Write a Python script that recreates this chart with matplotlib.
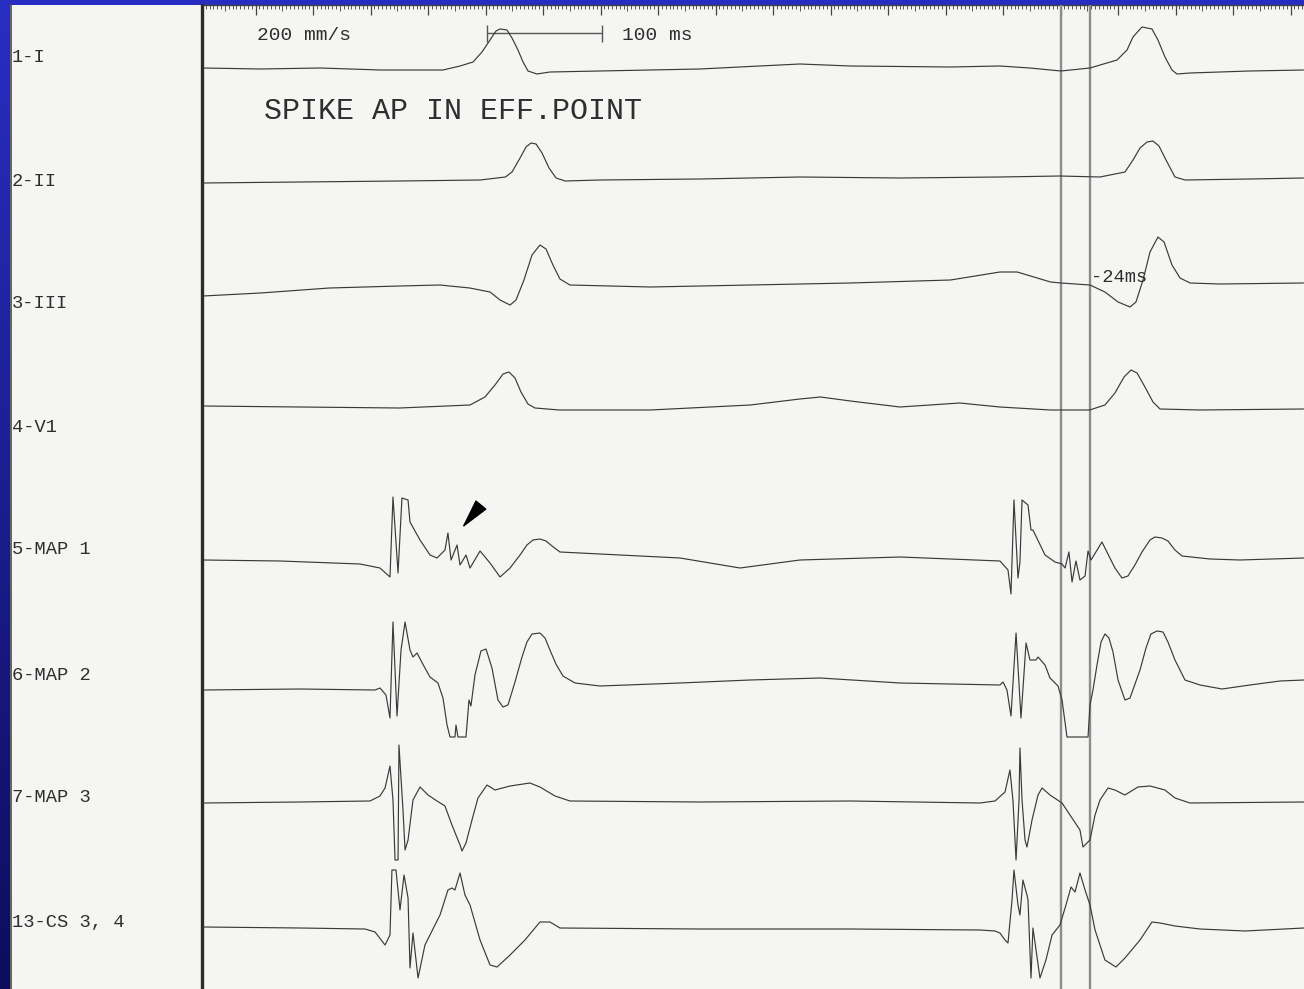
import numpy as np
import matplotlib.pyplot as plt
from matplotlib.patches import Rectangle

# channel names and recording traces: time in ms, deflection (positive up)
channel_names = ['1-I', '2-II', '3-III', '4-V1', '5-MAP 1', '6-MAP 2', '7-MAP 3', '13-CS 3, 4']

lead_i_t = [0, 50, 102, 154, 197, 208.7, 223.5, 234.8, 242.6, 249.6, 254.8, 258.3, 264.3, 268.7,
            273.9, 278.3, 282.6, 290.4, 301.7, 345, 432, 484, 519, 563, 650, 693, 719, 746, 771.3,
            794.8, 803.5, 808.7, 816.5, 825.2, 830.4, 836.5, 842.6, 846.9, 858.3, 910, 957]
lead_i_amp = [2, 1, 2, 0, 0, 0, 4, 8, 18, 30, 39, 41, 40, 32,
              20, 8, -1, -4, -2, -1, 1, 4, 6, 4, 3, 4, 2, -1, 2,
              10, 20, 33, 43, 41, 30, 13, 0, -4, -3, -1, 0]

lead_ii_t = [0, 84, 171, 241, 263, 268.7, 275.7, 280.9, 285.2, 289.6, 294.8, 300.9, 307, 315, 345,
             432, 519, 606, 693, 745, 780, 801.7, 808.7, 814.8, 820.9, 826.1, 831.3, 837.4, 845.2,
             854, 910, 957]
lead_ii_amp = [-3, -2, -1, 0, 3, 8, 22, 33, 37, 36, 27, 12, 2, -1, 0,
               1, 3, 2, 3, 4, 3, 8, 20, 32, 38, 39, 34, 20, 3,
               0, 1, 2]

lead_iii_t = [0, 50, 110, 171, 206, 232, 249.6, 258.3, 267, 272.2, 279.1, 286.1, 293, 298.3, 304.3,
              310.4, 319.1, 389, 476, 563, 650, 693, 708, 737, 746, 771.3, 784.3, 795.7, 806.1, 811.3,
              817.4, 823.5, 830.4, 835.7, 842.6, 849.6, 858.3, 884, 957]
lead_iii_amp = [-9, -6, -1, 1, 2, -1, -5, -13, -18, -13, 7, 32, 42, 38, 22,
                8, 2, 0, 2, 4, 7, 15, 15, 5, 4, 2, -5, -15, -20, -15,
                7, 35, 50, 45, 22, 9, 4, 3, 4]

lead_v1_t = [0, 84, 171, 232.2, 245.2, 253.9, 260.9, 266.1, 271.3, 276.5, 282.6, 288.7, 310, 389,
             476, 519, 537, 563, 606, 658, 693, 737, 771, 784.3, 793, 800.9, 807, 812.2, 819.1,
             826.1, 832.2, 867, 957]
lead_v1_amp = [2, 1, 0, 3, 11, 23, 34, 36, 30, 16, 4, 0, -2, -2,
               3, 9, 11, 7, 1, 5, 1, -2, -2, 3, 15, 31, 38, 35, 21,
               6, -1, -2, -1]

map1_t = [0, 67, 136.5, 153.9, 162.6, 165.2, 169.6, 173, 178.3, 180, 188.7, 197.4, 203.5, 210.4, 213,
          215.7, 220.9, 223.5, 228.7, 232.2, 240.9, 249.6, 258.3, 267, 275.7, 281.7, 287, 293, 298.3,
          303.5, 310.4, 345.2, 414.8, 467, 519.1, 606.1, 693, 700, 702.6, 705.2, 708.7, 710.4, 712.2,
          717.4, 720, 721.7, 732.2, 740.9, 747, 749.6, 753, 755.7, 759.1, 762.6, 767, 769.6, 772.2,
          781.7, 793, 799.1, 804.3, 810.4, 816.5, 823.5, 827.8, 833.9, 839.1, 845.2, 851.3, 875.7,
          901.7, 957.4]
map1_amp = [-2, -3, -6, -10, -19, 61, -15, 60, 58, 36, 18, 3, 0, 8, 25,
            -2, 13, -7, 3, -10, 7, -5, -19, -10, 3, 13, 18, 19, 17,
            12, 6, 4, 0, -10, -2, 1, -3, -12, -36, 58, -20, -4, 58,
            53, 28, 28, 3, -4, -6, -10, 6, -24, -3, -22, -18, 7, -2,
            16, -10, -20, -18, -7, 6, 18, 21, 20, 17, 8, 2, -1,
            -2, 0]

map2_t = [0, 84.3, 149.6, 153.9, 159.1, 162.6, 165.2, 168.7, 172.2, 175.7, 180, 182.6, 186.1, 193,
          197.4, 204.3, 208.7, 212.2, 214.8, 219.1, 220, 221.7, 228.7, 231.3, 233, 236.5, 241.7,
          246.1, 251.3, 256.5, 260.9, 265.2, 271.3, 277.4, 281.7, 286.1, 293, 297.4, 301.7, 306.9,
          313, 323.5, 345.2, 414.8, 475.7, 536.5, 606.1, 693, 695.7, 699.1, 702.6, 707, 711.3,
          715.7, 719.1, 724.3, 726.1, 732.2, 736.5, 743.5, 747, 751.3, 769.6, 771.3, 773.9, 777.4,
          780.9, 784.3, 787.8, 791.3, 795.7, 801.7, 806.1, 814.8, 820, 824.3, 829.6, 834.8, 839.1,
          845.2, 853.9, 867, 886.1, 910.4, 936.5, 957.4]
map2_amp = [-4, -3, -4, -2, -9, -32, 64, -30, 36, 64, 36, 29, 33, 18,
            9, 3, -12, -39, -51, -51, -39, -51, -51, -14, -20, 11, 35,
            37, 18, -14, -21, -19, 4, 29, 44, 52, 53, 48, 36, 22,
            10, 3, 0, 3, 6, 8, 3, 1, 4, -4, -30, 53, -32,
            43, 26, 26, 29, 21, 8, 0, -14, -51, -51, -19, -4, 21,
            44, 52, 48, 34, 6, -14, -12, 16, 38, 52, 55, 54, 44,
            26, 6, 1, -3, 1, 5, 6]

map3_t = [0, 84.3, 145.2, 153.9, 158.3, 162.6, 165.2, 167, 169.6, 170.4, 173.9, 175.7, 178.3, 182.6,
          188.7, 195.7, 203.5, 210.4, 216.5, 223.5, 225.2, 228.7, 233.9, 239.1, 247, 253.9, 267,
          284.3, 293, 306.1, 319.1, 432.2, 562.6, 675.7, 688.7, 697.4, 701.7, 704.3, 707, 709.6,
          710.4, 712.2, 714.8, 716.5, 720.9, 726.1, 729.6, 736.5, 747, 753.9, 762.6, 765.2, 771.3,
          775.7, 780, 787, 793, 801.7, 813, 823.5, 836.5, 845.2, 858.3, 957.4]
map3_amp = [-1, 0, 1, 6, 14, 36, 2, -58, -58, 57, -8, -48, -38, 2,
            15, 7, 1, -4, -23, -43, -49, -41, -18, 4, 17, 12, 16,
            19, 15, 6, 1, 0, 1, -1, 1, 10, 32, 2, -58, 2,
            54, 2, -38, -45, -18, 7, 14, 7, -1, -13, -28, -45, -38,
            -13, 2, 14, 12, 7, 15, 16, 12, 4, -1, 0]

cs34_t = [0, 84.3, 140.9, 149.6, 158.3, 162.6, 164.3, 167.8, 171.3, 174.8, 178.3, 180, 182.6, 187,
          193, 201.7, 206.1, 213, 216.5, 219.1, 223.5, 227.8, 232.2, 240.9, 249.6, 255.7, 267, 280,
          293, 301.7, 310.4, 432.2, 562.6, 675.7, 688.7, 693, 697.4, 700, 703.5, 705.2, 708.7,
          710.4, 713, 716.5, 717.4, 720, 721.7, 727.8, 733, 738.3, 745.2, 750.4, 754.8, 758.3,
          762.6, 767, 771.3, 775.7, 784.3, 793.9, 801.7, 814.8, 825.2, 832.2, 845.2, 867, 906.1, 957.4]
cs34_amp = [1, 0, -1, -4, -17, -7, 58, 58, 18, 53, 30, -40, -5, -50,
            -17, 3, 13, 38, 40, 38, 55, 33, 23, -12, -37, -39, -27, -12,
            6, 6, 0, -1, -1, -2, -3, -5, -12, -15, 28, 58, 23,
            13, 48, 33, 28, -50, 0, -50, -32, -7, 3, 23, 41, 36,
            55, 38, 23, -2, -32, -39, -30, -12, 6, 5, 2, -1, -3, 0]

traces = [(lead_i_t, lead_i_amp), (lead_ii_t, lead_ii_amp), (lead_iii_t, lead_iii_amp),
          (lead_v1_t, lead_v1_amp), (map1_t, map1_amp), (map2_t, map2_amp),
          (map3_t, map3_amp), (cs34_t, cs34_amp)]

# calipers (ms) and their readout
caliper_t = [746, 771]
caliper_label = '-24ms'
scale_bar_start = 247
scale_bar_ms = 100

# layout (pixel rows on the sheet)
W, H = 1304, 989
baselines = [70, 180, 287, 408, 558, 686, 802, 928]
label_rows = [57, 182, 304, 428, 550, 675, 798, 922]
trace_left = 203
t_end = 957.4

mono = ['Liberation Mono', 'DejaVu Sans Mono']
ink = '#3a3a3a'
text_ink = '#2e2e2e'

fig = plt.figure(figsize=(W / 100, H / 100), dpi=100)

# slide background + paper sheet
bg = fig.add_axes([0, 0, 1, 1])
bg.set_xlim(0, W)
bg.set_ylim(H, 0)
bg.axis('off')
grad = np.linspace(0, 1, 256)[:, None]
blue = np.array([[0.16, 0.18, 0.76]]) * (1 - grad) + np.array([[0.05, 0.05, 0.36]]) * grad
bg.imshow(blue[:, None, :], extent=[0, W, H, 0], aspect='auto', zorder=0)
bg.add_patch(Rectangle((10, 5), W - 10, H - 5, facecolor='#f5f5f3', edgecolor='none', zorder=1))
bg.plot([10.5, 10.5], [5, H], color='#4a4a4a', lw=1.2, zorder=2)
bg.plot([201.5, 201.5], [5, H], color='#2b2b2b', lw=2.4, zorder=2)

for name, row in zip(channel_names, label_rows):
    bg.text(12, row, name, family=mono, fontsize=13.5, color=text_ink, va='center', ha='left', zorder=3)

# trace panel: x in ms, y in sheet rows
ax = fig.add_axes([trace_left / W, 0, 1 - trace_left / W, 1])
ax.set_xlim(0, t_end)
ax.set_ylim(H, 0)
ax.axis('off')
ax.patch.set_alpha(0)

# time ruler along the top edge
major_ms = 50
minor_ms = major_ms / 15
ruler_t0 = -4.3
ticks = ruler_t0 + np.arange(0, int((t_end - ruler_t0) / minor_ms) + 1) * minor_ms
is_major = np.arange(len(ticks)) % 15 == 0
is_mid = (np.arange(len(ticks)) % 15 == 7)
ax.vlines(ticks[~is_major & ~is_mid], 5, 9, color='#555555', lw=0.7)
ax.vlines(ticks[is_mid], 5, 11, color='#555555', lw=0.7)
ax.vlines(ticks[is_major], 5, 15, color='#444444', lw=0.9)
ax.hlines(5, 0, t_end, color='#444444', lw=1.0)

for (t, amp), base in zip(traces, baselines):
    ax.plot(t, base - np.asarray(amp), color=ink, lw=0.85, zorder=4,
            solid_joinstyle='round', solid_capstyle='round')

# calipers
ax.vlines(caliper_t, 5, H, color='#8c8c8c', lw=1.7, zorder=3)
ax.text(caliper_t[1] + 1, 277, caliper_label, family=mono, fontsize=13.5, color=text_ink,
        va='center', ha='left', zorder=5)

# paper speed and 100 ms scale bar
ax.hlines(33, scale_bar_start, scale_bar_start + scale_bar_ms, color='#555555', lw=1.0)
ax.vlines([scale_bar_start, scale_bar_start + scale_bar_ms], 25, 42, color='#555555', lw=1.0)
ax.text(47, 36, '200 mm/s', family=mono, fontsize=14, color=text_ink, va='center', ha='left')
ax.text(364, 36, '100 ms', family=mono, fontsize=14, color=text_ink, va='center', ha='left')
ax.text(53, 111, 'SPIKE AP IN EFF.POINT', family=mono, fontsize=21.6, color=text_ink,
        va='center', ha='left')

# marker on the fractionated MAP 1 potential
ax.annotate('', xy=(225.2, baselines[4] - 30), xytext=(237.4, baselines[4] - 47),
            arrowprops=dict(arrowstyle='-|>,head_length=1.6,head_width=0.38', color='black',
                            lw=1.0, mutation_scale=12, shrinkA=0, shrinkB=0))

fig.savefig('out.png', dpi=100)
